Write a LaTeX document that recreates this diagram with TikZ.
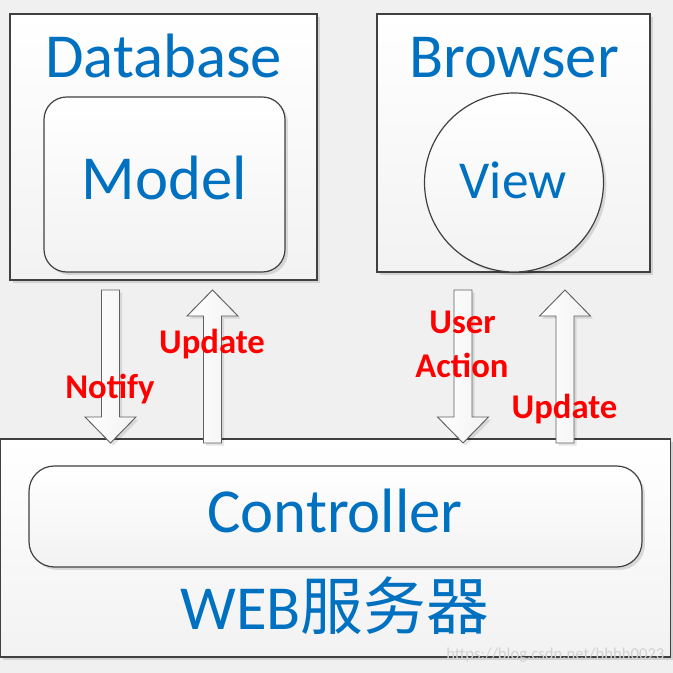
\documentclass[tikz,border=0pt]{standalone}
\usepackage{fontspec}
\setmainfont{Carlito}
\newfontfamily\cjkfont{Noto Sans CJK SC}
\usetikzlibrary{shadows}

\definecolor{mvcblue}{RGB}{0,112,192}
\definecolor{mvcred}{RGB}{255,0,0}
\definecolor{pagegray}{RGB}{240,240,240}
\definecolor{boxgray}{RGB}{242,242,242}
\definecolor{edgegray}{RGB}{64,64,64}
\definecolor{arrowgray}{RGB}{96,96,96}

\tikzset{
  box/.style={draw=edgegray, line width=0.9pt, top color=white, bottom color=boxgray,
    drop shadow={shadow xshift=2.2pt, shadow yshift=-2.2pt, fill=black, opacity=0.12}},
  roundbox/.style={box, rounded corners=17pt},
  fatarrow/.style={draw=arrowgray, line width=0.7pt, left color=white, right color=boxgray,
    drop shadow={shadow xshift=2pt, shadow yshift=-2pt, fill=black, opacity=0.1}},
  bigword/.style={text=mvcblue, font=\fontsize{47}{56}\selectfont, inner sep=0pt, anchor=base},
  tag/.style={text=mvcred, font=\bfseries\fontsize{26}{30}\selectfont, inner sep=0pt, anchor=base},
  % pics are drawn with y pointing up
  pics/fatdown/.style={code={
    \draw[fatarrow] (-9,76.5) -- (9,76.5) -- (9,-50.5) -- (25.5,-50.5) -- (0,-76.5)
      -- (-25.5,-50.5) -- (-9,-50.5) -- cycle;}},
  pics/fatup/.style={code={
    \draw[fatarrow] (-9,-76.5) -- (9,-76.5) -- (9,50.5) -- (25.5,50.5) -- (0,76.5)
      -- (-25.5,50.5) -- (-9,50.5) -- cycle;}},
}

\begin{document}
\begin{tikzpicture}[x=0.75pt,y=0.75pt,yscale=-1,xscale=1]
\fill[pagegray] (0,0) rectangle (673,673);
\useasboundingbox (0,0) rectangle (673,673);

% Database / Model
\node[box, minimum width=230.25pt, minimum height=199.5pt] (dbbox) at (163.5,147) {};
\node[roundbox, minimum width=180.75pt, minimum height=131.25pt] (modelbox) at (164.5,184.5) {};
\node[bigword] (dbtitle) at (163.5,78) {Database};
\node[bigword] (model) at (164.5,200) {Model};

% Browser / View
\node[box, minimum width=204.75pt, minimum height=193.5pt] (browserbox) at (513.5,143) {};
\node[box, circle, minimum size=134.25pt] (viewcircle) at (514,182.5) {};
\node[bigword] (browsertitle) at (514,78) {Browser};
\node[bigword, font=\fontsize{40}{48}\selectfont] (view) at (513,199) {View};

% WEB server / Controller
\node[box, minimum width=502.5pt, minimum height=163.5pt] (webbox) at (335.5,548) {};
\node[roundbox, rounded corners=19pt, minimum width=459.75pt, minimum height=75.75pt] (ctrlbox) at (335.5,516.5) {};
\node[bigword] (controller) at (335,532) {Controller};
\node[bigword] (webtitle) at (334.5,629) {WEB{\cjkfont 服务器}};

% Fat arrows
\pic (notifyarrow) at (110.5,366.5) {fatdown};
\pic (modelupdate) at (212.5,366.5) {fatup};
\pic (actionarrow) at (463,366.5) {fatdown};
\pic (viewupdate) at (565,366.5) {fatup};

% Arrow labels
\node[tag] (notify) at (110,398) {Notify};
\node[tag] (update1) at (212,353) {Update};
\node[tag] (user) at (462.5,333) {User};
\node[tag] (action) at (462,377) {Action};
\node[tag] (update2) at (564.5,418) {Update};

% watermark
\node[anchor=base west, inner sep=0pt, text=gray!35, font=\fontsize{12.5}{14}\selectfont] (mark) at (446,659) {https://blog.csdn.net/hhhh0023};

\end{tikzpicture}
\end{document}
